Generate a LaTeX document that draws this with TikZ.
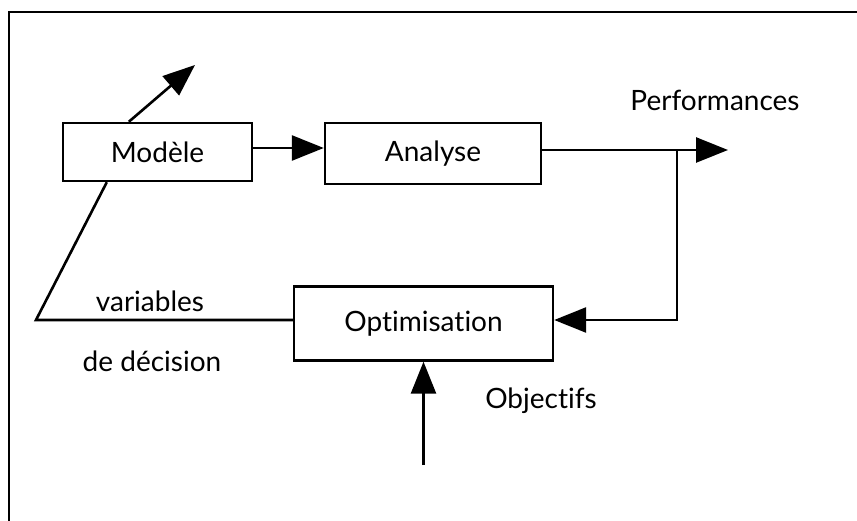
\documentclass[tikz,border=0pt]{standalone}
\usepackage{fontspec}
\setmainfont{Lato}[Ligatures={NoCommon,NoDiscretionary,NoRare}]
\usetikzlibrary{arrows.meta,calc}
\begin{document}
\begin{tikzpicture}[x=1pt,y=-1pt,
  box/.style={draw,line width=2.4pt,rectangle,inner sep=0pt,font=\fontsize{28}{30}\selectfont},
  lbl/.style={inner sep=0pt,font=\fontsize{28}{30}\selectfont},
  wire/.style={line width=2.6pt},
  arr/.style={wire,-{Triangle[length=32pt,width=25pt]}}]
\useasboundingbox (0,0) rectangle (857,521);
\fill[white] (0,0) rectangle (857,521);
% frame
\draw[line width=2.2pt] (9,521) -- (9,12) -- (857,12);
% boxes
\node[box,minimum width=189pt,minimum height=58pt] (modele) at (157.5,152) {Modèle};
\node[box,minimum width=216pt,minimum height=61pt] (analyse) at (433,153.5) {Analyse};
\node[box,minimum width=259pt,minimum height=74pt] (optim) at (423.5,323.5) {Optimisation};
% labels
\node[lbl] (perf) at (715,100) {Performances};
\node[lbl] (var) at (150,301) {variables};
\node[lbl] (dec) at (152,361) {de décision};
\node[lbl] (obj) at (541,401) {Objectifs};
% coordinates
\coordinate (mtop) at ([xshift=67pt]modele.north west);
\coordinate (mout) at (195,65);
\coordinate (mbot) at ([xshift=45pt]modele.south west);
\coordinate (corner) at (36,320);
\coordinate (ptip) at (728,150);
\coordinate (junc) at (677,150);
\coordinate (jdown) at (677,320);
\coordinate (objstart) at (423.5,465);
% connectors
\draw[arr] (mtop) -- (mout);
\draw[arr] ([yshift=4pt]modele.east) -- ([yshift=4pt]modele.east -| analyse.west);
\draw[arr] ([yshift=3.5pt]analyse.east) -- (ptip);
\draw[arr] (junc) -- (jdown) -- (jdown -| optim.east);
\draw[wire] (jdown -| optim.west) -- (corner) -- (mbot);
\draw[arr] (objstart) -- (optim.south);
\end{tikzpicture}
\end{document}
